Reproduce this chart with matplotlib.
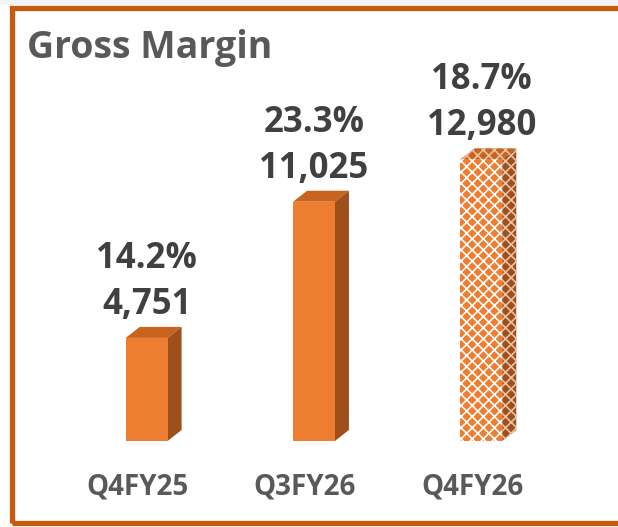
import matplotlib
matplotlib.use("Agg")
import matplotlib.pyplot as plt
from matplotlib.patches import Polygon, Rectangle

plt.rcParams["font.family"] = ["Open Sans", "DejaVu Sans"]
plt.rcParams["hatch.linewidth"] = 1.2

# data
quarters = ["Q4FY25", "Q3FY26", "Q4FY26"]
gross_margin = [4751, 11025, 12980]
margin_pct = ["14.2%", "23.3%", "18.7%"]
patterned = [False, False, True]

W, H = 618, 527
FRONT = "#ED7D31"
TOP = "#C8641E"
SIDE = "#9E4F1B"
BORDER = "#C55A11"


def bar3d(ax, x, val, width, hatch=None, dx=14, dy=11):
    # front face through the axes, top/side faces offset in pixels
    ax.bar(x, val, width=width, color=FRONT, edgecolor="white" if hatch else FRONT,
           linewidth=0, hatch=hatch, zorder=3)
    to_px = ax.transData
    inv = to_px.inverted()
    (x0, y0) = to_px.transform((x - width / 2, 0))
    (x1, y1) = to_px.transform((x + width / 2, val))
    top = [(x0, y1), (x1, y1), (x1 + dx, y1 + dy), (x0 + dx, y1 + dy)]
    side = [(x1, y0), (x1 + dx, y0 + dy), (x1 + dx, y1 + dy), (x1, y1)]
    for pts, c in [(top, TOP), (side, SIDE)]:
        poly = Polygon(inv.transform(pts), closed=True, facecolor=c,
                       edgecolor="#E9C2A6" if hatch else c, linewidth=0,
                       hatch=hatch, zorder=2)
        ax.add_patch(poly)


fig = plt.figure(figsize=(W / 100, H / 100), dpi=100)
fig.patch.set_facecolor("white")

# light strip at very top and the orange frame (open to the right)
fig.patches.append(Rectangle((0, 1 - 5 / H), 1, 5 / H, transform=fig.transFigure,
                             facecolor="#F3F3F3", edgecolor="none", zorder=0))
fig.patches.append(Rectangle((12 / W, 4.5 / H), 1.2, (H - 12) / H,
                             transform=fig.transFigure, facecolor="none",
                             edgecolor=BORDER, linewidth=3.8, zorder=5))

ax = fig.add_axes([63 / W, 86 / H, 502 / W, 421 / H])
ax.set_xlim(-0.5, 2.5)
ax.set_ylim(0, 19400)
ax.axis("off")

xs = range(len(quarters))
for x, v, p in zip(xs, gross_margin, patterned):
    bar3d(ax, x, v, 0.25, hatch="xxx" if p else None)

for x, v, pct in zip(xs, gross_margin, margin_pct):
    ax.annotate(f"{v:,}", (x, v), xytext=(0, 33), textcoords="offset pixels",
                ha="center", va="center", fontsize=25, fontweight="bold",
                color="#404040")
    ax.annotate(pct, (x, v), xytext=(0, 79), textcoords="offset pixels",
                ha="center", va="center", fontsize=25, fontweight="bold",
                color="#404040")
    ax.annotate(quarters[x], (x, 0), xytext=(-9, -46), textcoords="offset pixels",
                ha="center", va="center", fontsize=20, fontweight="bold",
                color="#595959")

fig.text(27 / W, 1 - 48 / H, "Gross Margin", ha="left", va="center",
         fontsize=27, fontweight="bold", color="#595959")

fig.savefig("out.png", dpi=100)
